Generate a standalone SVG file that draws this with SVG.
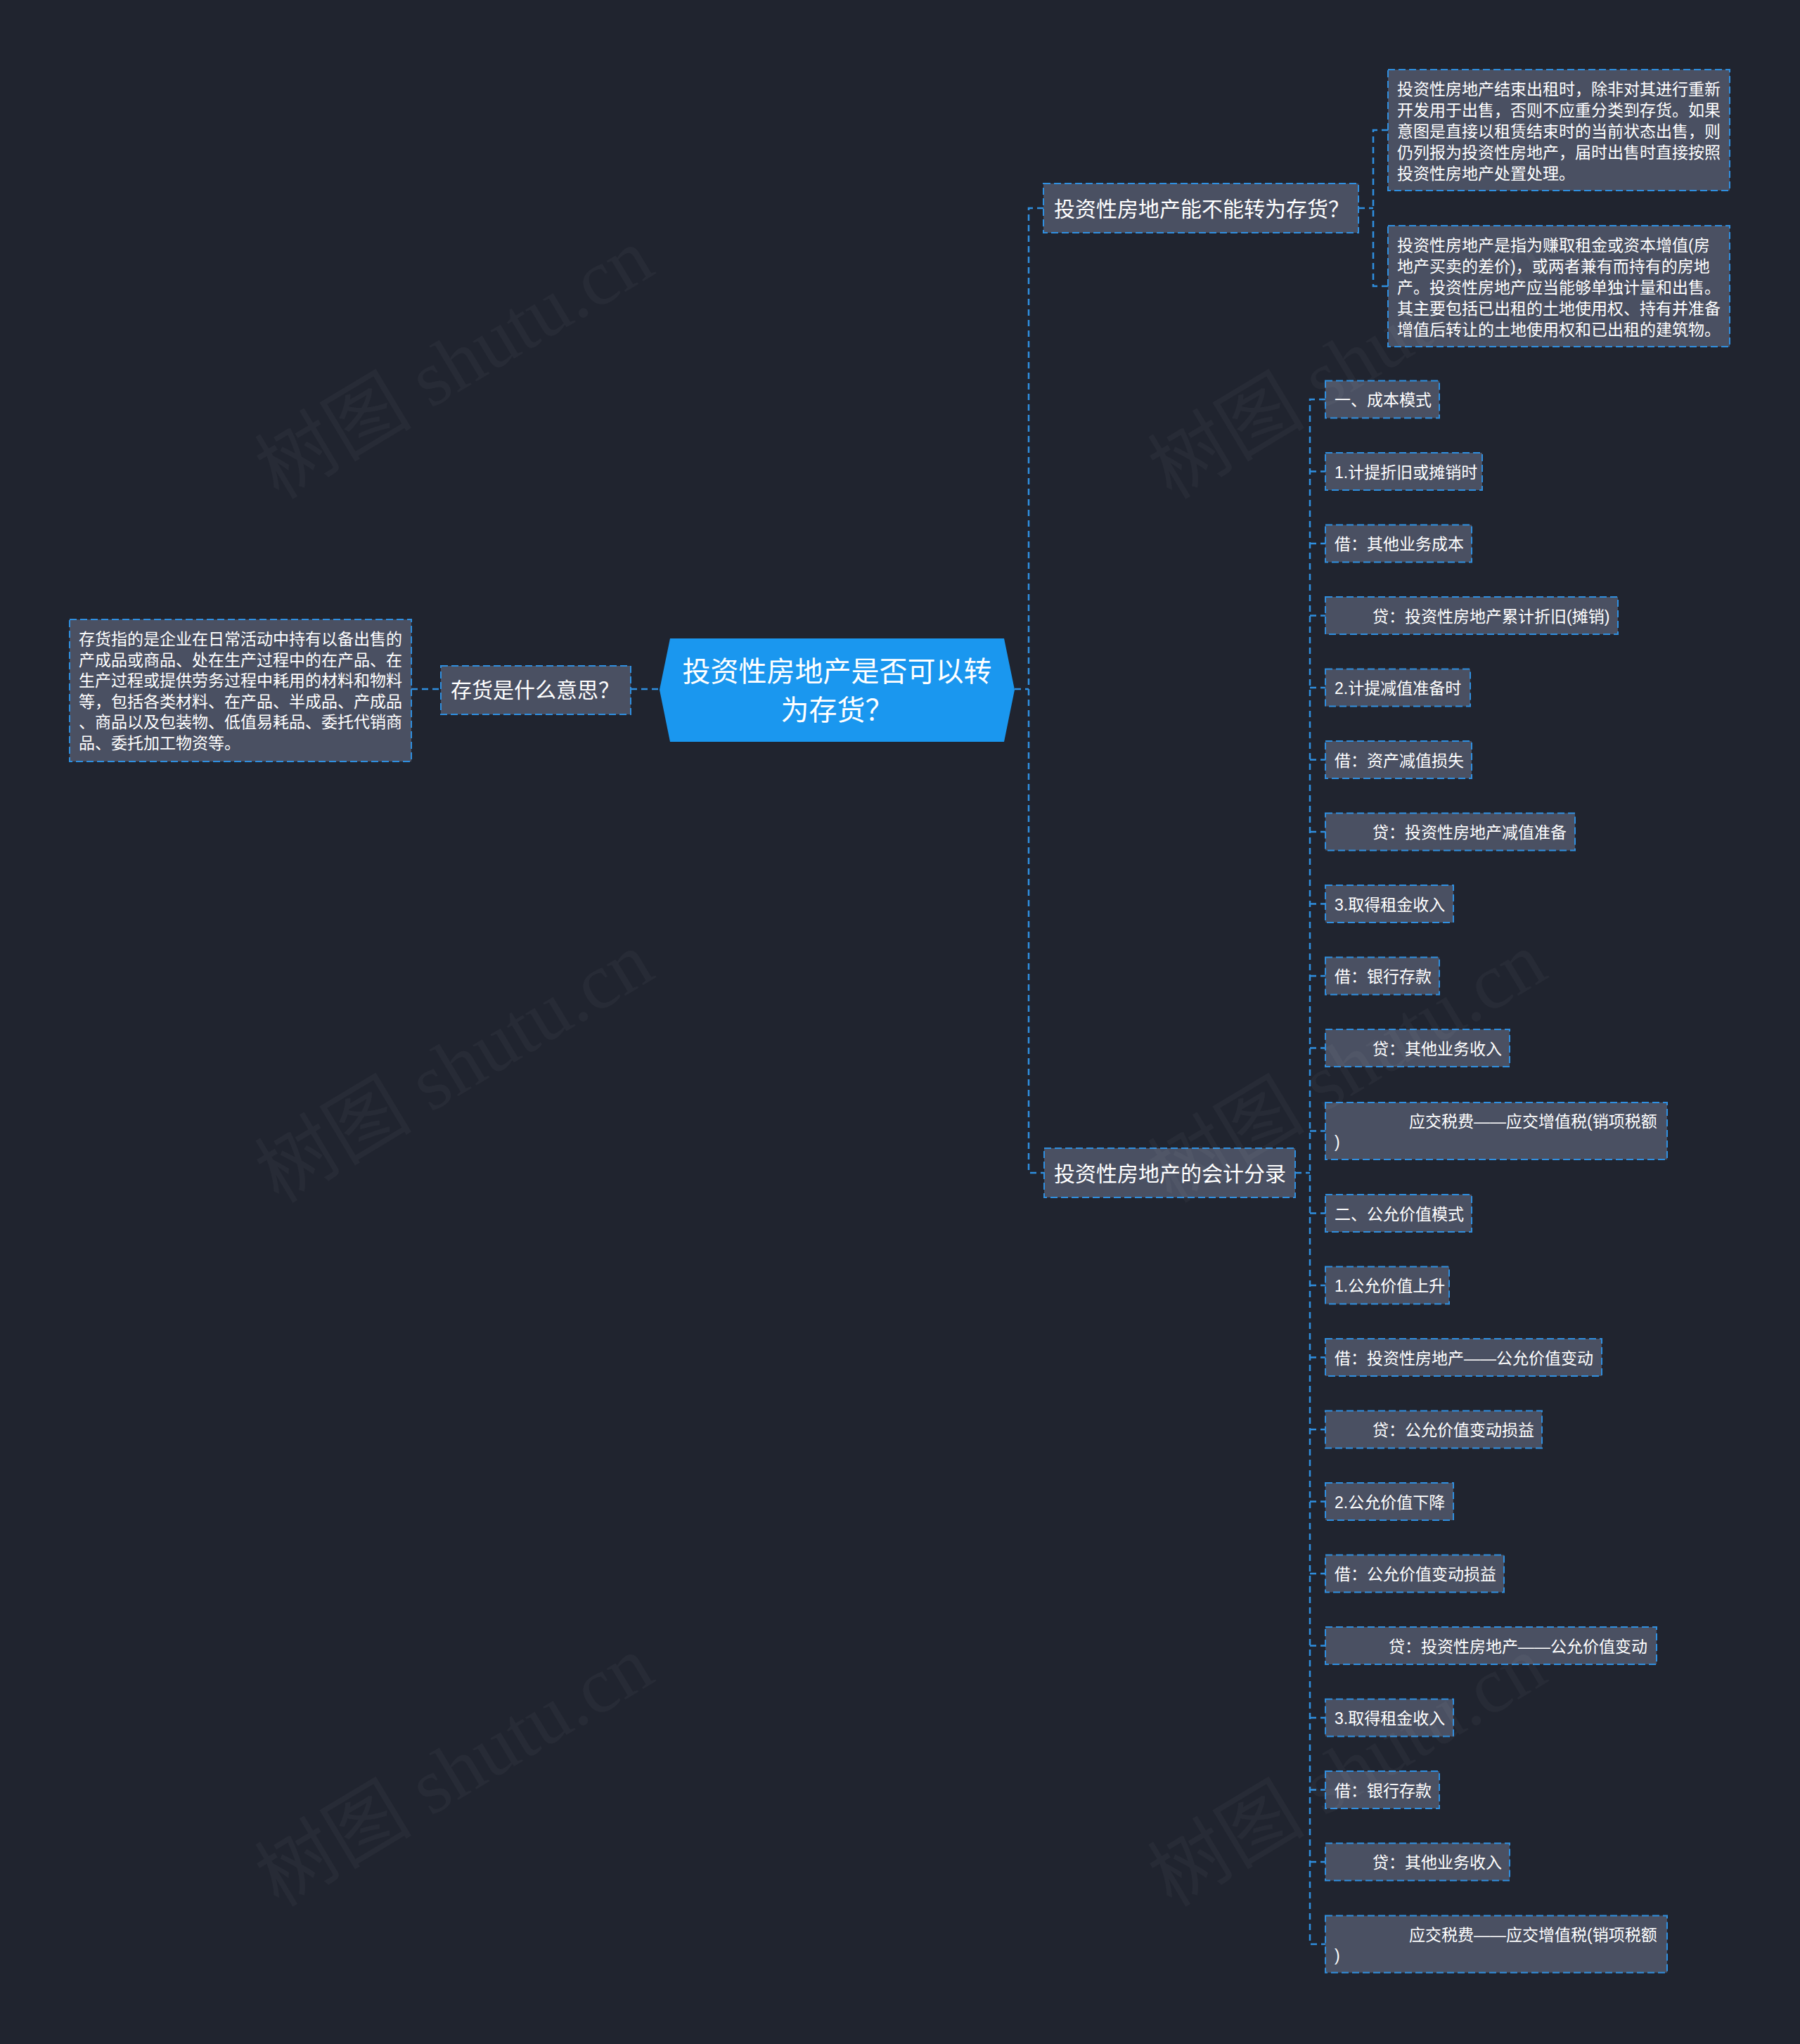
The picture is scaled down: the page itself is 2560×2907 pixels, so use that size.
<svg xmlns="http://www.w3.org/2000/svg" width="2560" height="2907" viewBox="0 0 2560 2907">
<style>
.bg{fill:#20242f}
.conn{fill:none;stroke:#2f8fe0;stroke-width:2.5;stroke-dasharray:9 6}
.box{fill:#4a5062;stroke:#2f8fe0;stroke-width:2;stroke-dasharray:10 5}
.t{font-family:'Liberation Sans','Noto Sans CJK SC',sans-serif;fill:#ffffff}
.s23{font-size:23px}
.s30{font-size:30px}
.s40{font-size:40px}
.wm{font-family:'Liberation Serif','Noto Sans CJK SC',serif;font-size:112px;fill:#ffffff;fill-opacity:0.035}
</style>
<rect class="bg" x="0" y="0" width="2560" height="2907"/>

<g id="connectors">
<path class="conn" d="M585,980 H627"/>
<path class="conn" d="M897,980 H938"/>
<path class="conn" d="M1443,980 H1463"/>
<path class="conn" d="M1484,296 H1463 V1668 H1485"/>
<path class="conn" d="M1932,296 H1953"/>
<path class="conn" d="M1974,185 H1953 V407 H1974"/>
<path class="conn" d="M1842,1668 H1863"/>
<path class="conn" d="M1885,568 H1863 V2765 H1885"/>
<path class="conn" d="M1863,670.5 H1885 M1863,773 H1885 M1863,875.5 H1885 M1863,978 H1885 M1863,1080.5 H1885 M1863,1183 H1885 M1863,1285.5 H1885 M1863,1388 H1885 M1863,1490.5 H1885 M1863,1608.5 H1885 M1863,1725.5 H1885 M1863,1828 H1885 M1863,1930.5 H1885 M1863,2033 H1885 M1863,2135.5 H1885 M1863,2238 H1885 M1863,2340.5 H1885 M1863,2443 H1885 M1863,2545.5 H1885 M1863,2648 H1885"/>
</g>

<g id="root">
<polygon points="938,981 953,908 1428,908 1443,981 1428,1055 953,1055" fill="#1a97ef"/>
<text class="t s40" text-anchor="middle" x="1190.5" y="969">投资性房地产是否可以转</text>
<text class="t s40" text-anchor="middle" x="1190.5" y="1024">为存货？</text>
</g>

<g id="n-cunhuo">
<rect class="box" x="627" y="947" width="270" height="69"/>
<text class="t s30" x="641" y="992">存货是什么意思？</text>
</g>

<g id="n-cunhuo-detail">
<rect class="box" x="99" y="881" width="486" height="202"/>
<text class="t s23" x="112" y="917">存货指的是企业在日常活动中持有以备出售的</text>
<text class="t s23" x="112" y="947">产成品或商品、处在生产过程中的在产品、在</text>
<text class="t s23" x="112" y="976">生产过程或提供劳务过程中耗用的材料和物料</text>
<text class="t s23" x="112" y="1006">等，包括各类材料、在产品、半成品、产成品</text>
<text class="t s23" x="112" y="1035">、商品以及包装物、低值易耗品、委托代销商</text>
<text class="t s23" x="112" y="1065">品、委托加工物资等。</text>
</g>

<g id="n-neng">
<rect class="box" x="1484" y="261" width="448" height="70"/>
<text class="t s30" x="1499" y="308">投资性房地产能不能转为存货？</text>
</g>

<g id="n-neng-a">
<rect class="box" x="1974" y="99" width="486" height="172"/>
<text class="t s23" x="1987" y="135">投资性房地产结束出租时，除非对其进行重新</text>
<text class="t s23" x="1987" y="165">开发用于出售，否则不应重分类到存货。如果</text>
<text class="t s23" x="1987" y="195">意图是直接以租赁结束时的当前状态出售，则</text>
<text class="t s23" x="1987" y="225">仍列报为投资性房地产，届时出售时直接按照</text>
<text class="t s23" x="1987" y="255">投资性房地产处置处理。</text>
</g>

<g id="n-neng-b">
<rect class="box" x="1974" y="321" width="486" height="172"/>
<text class="t s23" x="1987" y="357">投资性房地产是指为赚取租金或资本增值(房</text>
<text class="t s23" x="1987" y="387">地产买卖的差价)，或两者兼有而持有的房地</text>
<text class="t s23" x="1987" y="417">产。投资性房地产应当能够单独计量和出售。</text>
<text class="t s23" x="1987" y="447">其主要包括已出租的土地使用权、持有并准备</text>
<text class="t s23" x="1987" y="477">增值后转让的土地使用权和已出租的建筑物。</text>
</g>

<g id="n-kuaiji">
<rect class="box" x="1485" y="1633" width="357" height="70"/>
<text class="t s30" x="1499" y="1680">投资性房地产的会计分录</text>
</g>

<g id="c0"><rect class="box" x="1885" y="541.5" width="162" height="53"/><text class="t s23" x="1898" y="577">一、成本模式</text></g>
<g id="c1"><rect class="box" x="1885" y="644" width="223" height="53"/><text class="t s23" x="1898" y="679.5">1.计提折旧或摊销时</text></g>
<g id="c2"><rect class="box" x="1885" y="746.5" width="208" height="53"/><text class="t s23" x="1898" y="782">借：其他业务成本</text></g>
<g id="c3"><rect class="box" x="1885" y="849" width="416" height="53"/><text class="t s23" x="1952" y="884.5">贷：投资性房地产累计折旧(摊销)</text></g>
<g id="c4"><rect class="box" x="1885" y="951.5" width="206" height="53"/><text class="t s23" x="1898" y="987">2.计提减值准备时</text></g>
<g id="c5"><rect class="box" x="1885" y="1054" width="208" height="53"/><text class="t s23" x="1898" y="1089.5">借：资产减值损失</text></g>
<g id="c6"><rect class="box" x="1885" y="1156.5" width="355" height="53"/><text class="t s23" x="1952" y="1192">贷：投资性房地产减值准备</text></g>
<g id="c7"><rect class="box" x="1885" y="1259" width="182" height="53"/><text class="t s23" x="1898" y="1294.5">3.取得租金收入</text></g>
<g id="c8"><rect class="box" x="1885" y="1361.5" width="162" height="53"/><text class="t s23" x="1898" y="1397">借：银行存款</text></g>
<g id="c9"><rect class="box" x="1885" y="1464" width="262" height="53"/><text class="t s23" x="1952" y="1499.5">贷：其他业务收入</text></g>
<g id="c10"><rect class="box" x="1885" y="1568" width="486" height="81"/><text class="t s23" x="2004" y="1603">应交税费——应交增值税(销项税额</text><text class="t s23" x="1898" y="1632">)</text></g>
<g id="c11"><rect class="box" x="1885" y="1699" width="208" height="53"/><text class="t s23" x="1898" y="1734.5">二、公允价值模式</text></g>
<g id="c12"><rect class="box" x="1885" y="1801.5" width="176" height="53"/><text class="t s23" x="1898" y="1837">1.公允价值上升</text></g>
<g id="c13"><rect class="box" x="1885" y="1904" width="393" height="53"/><text class="t s23" x="1898" y="1939.5">借：投资性房地产——公允价值变动</text></g>
<g id="c14"><rect class="box" x="1885" y="2006.5" width="308" height="53"/><text class="t s23" x="1952" y="2042">贷：公允价值变动损益</text></g>
<g id="c15"><rect class="box" x="1885" y="2109" width="182" height="53"/><text class="t s23" x="1898" y="2144.5">2.公允价值下降</text></g>
<g id="c16"><rect class="box" x="1885" y="2211.5" width="254" height="53"/><text class="t s23" x="1898" y="2247">借：公允价值变动损益</text></g>
<g id="c17"><rect class="box" x="1885" y="2314" width="471" height="53"/><text class="t s23" x="1975" y="2349.5">贷：投资性房地产——公允价值变动</text></g>
<g id="c18"><rect class="box" x="1885" y="2416.5" width="182" height="53"/><text class="t s23" x="1898" y="2452">3.取得租金收入</text></g>
<g id="c19"><rect class="box" x="1885" y="2519" width="162" height="53"/><text class="t s23" x="1898" y="2554.5">借：银行存款</text></g>
<g id="c20"><rect class="box" x="1885" y="2621.5" width="262" height="53"/><text class="t s23" x="1952" y="2657">贷：其他业务收入</text></g>
<g id="c21"><rect class="box" x="1885" y="2724.5" width="486" height="81"/><text class="t s23" x="2004" y="2759.5">应交税费——应交增值税(销项税额</text><text class="t s23" x="1898" y="2788.5">)</text></g>

<g id="watermarks">
<text class="wm" text-anchor="middle" transform="translate(646,517) rotate(-31)" y="38">树图 shutu.cn</text>
<text class="wm" text-anchor="middle" transform="translate(646,1518) rotate(-31)" y="38">树图 shutu.cn</text>
<text class="wm" text-anchor="middle" transform="translate(646,2519) rotate(-31)" y="38">树图 shutu.cn</text>
<text class="wm" text-anchor="middle" transform="translate(1916,517) rotate(-31)" y="38">树图 shutu.cn</text>
<text class="wm" text-anchor="middle" transform="translate(1916,1518) rotate(-31)" y="38">树图 shutu.cn</text>
<text class="wm" text-anchor="middle" transform="translate(1916,2519) rotate(-31)" y="38">树图 shutu.cn</text>
</g>
</svg>
